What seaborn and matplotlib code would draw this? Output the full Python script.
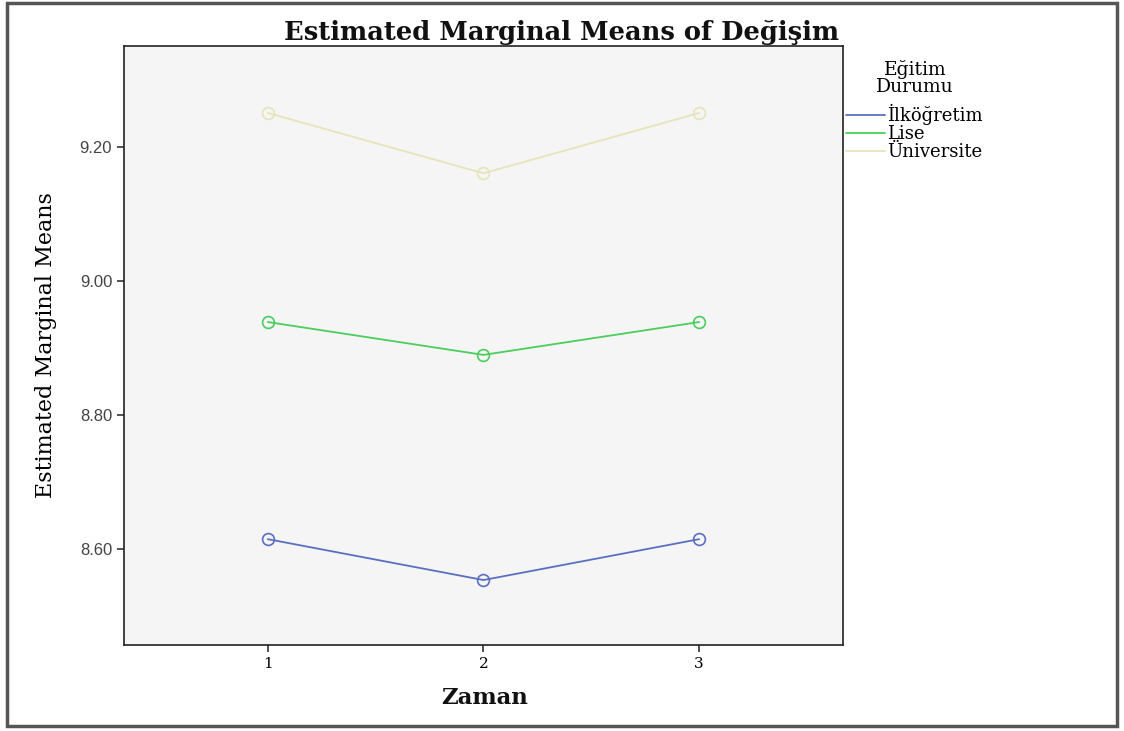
import numpy as np
import pandas as pd
import matplotlib
matplotlib.use('Agg')
import matplotlib.pyplot as plt
import seaborn as sns
from matplotlib.patches import Rectangle

# values
zaman = [1, 2, 3]
groups = ['İlköğretim', 'Lise', 'Üniversite']
ilkogretim = [8.615, 8.554, 8.615]
lise = [8.939, 8.890, 8.939]
universite = [9.251, 9.161, 9.251]
yticks = [8.60, 8.80, 9.00, 9.20]
colors = ['#5a6fc2', '#4ccd5c', '#e8e3b8']

df = pd.DataFrame({
    'Zaman': zaman * 3,
    'Means': ilkogretim + lise + universite,
    'Grup': [g for g in groups for _ in zaman],
})

sns.set_style('white')
plt.rcParams['text.color'] = 'black'
serif = ['DejaVu Serif']
sans = ['Liberation Sans', 'DejaVu Sans']

fig = plt.figure(figsize=(11.24, 7.31), dpi=100)
ax = fig.add_axes([0.1103, 0.1176, 0.6397, 0.8195])
ax.set_facecolor('#f5f5f5')

sns.lineplot(data=df, x='Zaman', y='Means', hue='Grup', palette=colors,
             marker='o', markersize=8.5, markerfacecolor='none', markeredgewidth=1.2,
             linewidth=1.3, ax=ax, legend=False)
# open markers in line colour
for line, c in zip(ax.get_lines(), colors):
    line.set_markeredgecolor(c)

ax.set_xlim(0.333, 3.667)
ax.set_ylim(8.457, 9.351)
ax.set_xticks(zaman)
ax.set_xticklabels([str(z) for z in zaman])
ax.set_yticks(yticks)
ax.set_yticklabels([f'{v:.2f}' for v in yticks])
for t in ax.get_xticklabels():
    t.set_fontfamily(serif)
    t.set_fontsize(11)
    t.set_color('black')
for t in ax.get_yticklabels():
    t.set_fontfamily(sans)
    t.set_fontsize(12)
    t.set_color('#444444')
ax.tick_params(axis='both', length=5, width=1.2, color='#333333', direction='out')
ax.tick_params(left=True, bottom=True)
for s in ax.spines.values():
    s.set_color('#222222')
    s.set_linewidth(1.2)
ax.set_xlabel('')
ax.set_ylabel('')

fig.text(0.5, 0.955, 'Estimated Marginal Means of Değişim', ha='center', va='center',
         family=serif, fontsize=18.5, fontweight='bold', color='#111111')
fig.text(0.041, 0.528, 'Estimated Marginal Means', rotation=90, ha='center', va='center',
         family=serif, fontsize=16)
fig.text(0.431, 0.045, 'Zaman', ha='center', va='center',
         family=serif, fontsize=16.5, fontweight='bold', color='#111111')

# legend
fig.text(0.814, 0.893, 'Eğitim\nDurumu', ha='center', va='center', family=serif,
         fontsize=13.5, linespacing=0.95)
handles = [plt.Line2D([], [], color=c, lw=1.3) for c in colors]
leg = fig.legend(handles, groups, loc='upper left', bbox_to_anchor=(0.7445, 0.87),
                 frameon=False, handlelength=2.15, handletextpad=0.12, labelspacing=0.0,
                 borderpad=0.0, prop={'family': serif, 'size': 13})

# outer frame
fig.patches.append(Rectangle((0.0065, 0.007), 0.9935 - 0.0065, 0.989, transform=fig.transFigure,
                             fill=False, edgecolor='#555555', linewidth=2.5))

fig.savefig('out.png', dpi=100)
